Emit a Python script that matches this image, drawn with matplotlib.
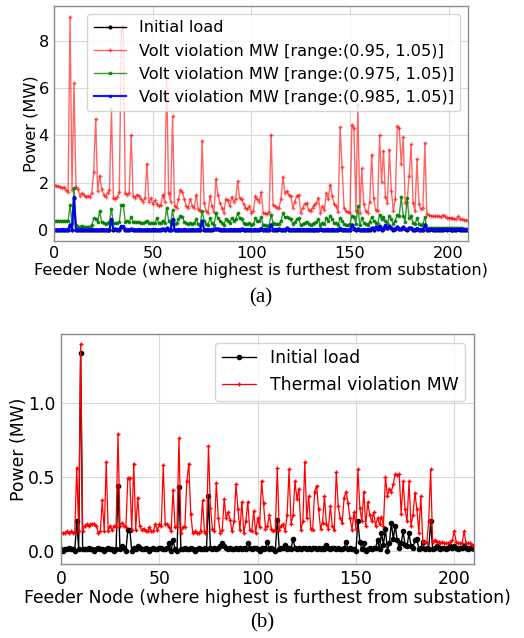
import matplotlib
matplotlib.use("Agg")
import matplotlib.pyplot as plt
import numpy as np

# ---------------- data ----------------
nodes = list(range(211))

initial_load = [
    0.01, 0.00, 0.01, 0.01, 0.02, 0.01, 0.01, 0.00, 0.20, 0.01,
    1.34, 0.01, 0.01, 0.01, 0.02, 0.01, 0.01, 0.00, 0.01, 0.02,
    0.01, 0.01, 0.00, 0.01, 0.02, 0.01, 0.01, 0.00, 0.01, 0.44,
    0.01, 0.03, 0.02, 0.00, 0.14, 0.14, 0.00, 0.02, 0.01, 0.03,
    0.02, 0.01, 0.01, 0.02, 0.01, 0.00, 0.01, 0.02, 0.01, 0.01,
    0.02, 0.02, 0.01, 0.01, 0.02, 0.05, 0.00, 0.07, 0.01, 0.00,
    0.43, 0.01, 0.01, 0.02, 0.01, 0.01, 0.02, 0.01, 0.00, 0.01,
    0.02, 0.01, 0.01, 0.02, 0.01, 0.37, 0.02, 0.01, 0.02, 0.01,
    0.02, 0.03, 0.05, 0.03, 0.02, 0.01, 0.02, 0.01, 0.01, 0.02,
    0.01, 0.02, 0.01, 0.02, 0.01, 0.05, 0.02, 0.01, 0.02, 0.02,
    0.01, 0.00, 0.02, 0.01, 0.02, 0.06, 0.01, 0.02, 0.01, 0.00,
    0.21, 0.01, 0.02, 0.02, 0.04, 0.01, 0.02, 0.01, 0.08, 0.02,
    0.01, 0.02, 0.01, 0.02, 0.02, 0.01, 0.02, 0.01, 0.02, 0.02,
    0.01, 0.02, 0.01, 0.02, 0.01, 0.04, 0.02, 0.01, 0.02, 0.02,
    0.01, 0.02, 0.01, 0.01, 0.02, 0.06, 0.01, 0.02, 0.01, 0.01,
    0.00, 0.20, 0.06, 0.01, 0.05, 0.00, 0.01, 0.02, 0.01, 0.02,
    0.02, 0.07, 0.01, 0.12, 0.04, 0.15, 0.00, 0.05, 0.19, 0.08,
    0.17, 0.07, 0.02, 0.05, 0.13, 0.04, 0.03, 0.12, 0.03, 0.02,
    0.07, 0.08, 0.01, 0.02, 0.06, 0.01, 0.02, 0.01, 0.20, 0.01,
    0.02, 0.03, 0.02, 0.01, 0.02, 0.02, 0.01, 0.02, 0.03, 0.02,
    0.03, 0.02, 0.01, 0.02, 0.02, 0.03, 0.02, 0.01, 0.02, 0.02,
    0.01,
]

volt_095 = [
    1.92, 1.88, 1.85, 1.82, 1.79, 1.80, 1.68, 1.62, 9.00, 1.70,
    6.20, 1.80, 1.72, 1.45, 1.55, 1.50, 1.38, 1.45, 1.40, 1.55,
    2.46, 4.70, 1.65, 2.30, 1.75, 1.50, 1.40, 1.55, 1.70, 5.10,
    1.35, 1.30, 1.40, 1.60, 8.40, 8.60, 1.55, 1.50, 1.55, 4.00,
    1.45, 1.35, 1.50, 1.45, 1.30, 1.20, 1.35, 2.80, 1.20, 1.35,
    1.10, 1.25, 1.10, 1.00, 1.05, 1.50, 1.20, 6.50, 1.55, 1.20,
    4.80, 1.00, 0.95, 1.30, 1.70, 1.60, 1.30, 1.00, 0.95, 1.30,
    1.00, 0.95, 1.50, 0.90, 0.80, 3.78, 1.15, 0.80, 0.73, 1.45,
    1.00, 0.75, 2.15, 1.50, 1.15, 0.95, 0.73, 1.30, 1.25, 1.00,
    1.40, 1.20, 1.30, 2.06, 1.36, 1.30, 1.10, 0.95, 0.87, 1.00,
    0.73, 0.80, 1.43, 1.30, 1.20, 1.60, 0.73, 0.70, 0.66, 0.75,
    4.03, 1.06, 1.00, 0.95, 0.95, 1.30, 2.25, 1.57, 1.64, 1.50,
    1.43, 0.95, 1.20, 1.43, 1.50, 0.73, 0.95, 1.10, 1.15, 0.85,
    0.80, 0.95, 1.05, 1.15, 1.36, 0.73, 1.00, 0.85, 1.57, 1.30,
    1.92, 1.45, 1.10, 1.00, 0.75, 4.34, 2.66, 0.95, 0.80, 0.75,
    0.73, 4.45, 4.30, 0.80, 5.30, 0.73, 2.60, 1.10, 0.80, 0.73,
    1.20, 3.19, 1.36, 0.85, 0.80, 4.00, 2.05, 3.33, 1.40, 1.15,
    3.40, 1.65, 0.80, 1.30, 4.38, 4.30, 2.80, 3.93, 1.15, 1.20,
    2.27, 3.62, 1.15, 0.80, 3.00, 1.10, 0.90, 0.95, 3.68, 0.66,
    0.62, 0.60, 0.60, 0.58, 0.60, 0.58, 0.55, 0.62, 0.58, 0.52,
    0.52, 0.50, 0.50, 0.48, 0.48, 0.58, 0.45, 0.45, 0.43, 0.42,
    0.40,
]

volt_0975 = [
    0.40, 0.40, 0.40, 0.38, 0.40, 0.40, 0.38, 0.38, 1.05, 0.30,
    1.78, 0.20, 0.15, 0.15, 0.16, 0.15, 0.15, 0.14, 0.15, 0.20,
    0.50, 0.45, 0.35, 0.80, 0.35, 0.30, 0.25, 0.30, 0.35, 0.88,
    0.30, 0.28, 0.30, 0.35, 1.05, 1.05, 0.35, 0.40, 0.35, 0.55,
    0.35, 0.33, 0.35, 0.32, 0.30, 0.30, 0.32, 0.40, 0.30, 0.30,
    0.28, 0.30, 0.50, 0.30, 0.28, 0.40, 0.30, 0.95, 0.40, 0.30,
    0.85, 0.25, 0.30, 0.45, 0.60, 0.55, 0.35, 0.28, 0.25, 0.30,
    0.25, 0.28, 0.45, 0.25, 0.22, 0.80, 0.40, 0.25, 0.20, 0.50,
    0.30, 0.20, 0.70, 0.50, 0.40, 0.30, 0.20, 0.45, 0.40, 0.30,
    0.50, 0.40, 0.45, 0.70, 0.50, 0.45, 0.30, 0.25, 0.25, 0.30,
    0.20, 0.25, 0.50, 0.40, 0.40, 0.55, 0.20, 0.20, 0.18, 0.20,
    0.65, 0.30, 0.25, 0.25, 0.25, 0.40, 0.70, 0.55, 0.55, 0.50,
    0.45, 0.25, 0.35, 0.45, 0.50, 0.20, 0.25, 0.30, 0.35, 0.25,
    0.20, 0.25, 0.30, 0.35, 0.45, 0.20, 0.30, 0.25, 0.50, 0.40,
    0.60, 0.45, 0.30, 0.28, 0.20, 0.50, 0.40, 0.25, 0.20, 0.20,
    0.25, 0.60, 0.55, 0.25, 1.00, 0.20, 0.50, 0.30, 0.25, 0.20,
    0.35, 0.55, 0.40, 0.30, 0.25, 0.65, 0.45, 0.55, 0.40, 0.30,
    0.60, 0.45, 0.25, 0.40, 0.65, 0.60, 1.40, 0.60, 0.35, 1.35,
    0.50, 0.60, 0.30, 0.25, 0.50, 0.25, 0.20, 0.25, 0.55, 0.10,
    0.10, 0.09, 0.09, 0.08, 0.09, 0.08, 0.08, 0.09, 0.08, 0.08,
    0.10, 0.08, 0.07, 0.07, 0.07, 0.09, 0.07, 0.07, 0.06, 0.06,
    0.06,
]

volt_0985 = [
    0.02, 0.02, 0.02, 0.02, 0.03, 0.02, 0.02, 0.02, 0.22, 0.02,
    1.38, 0.02, 0.02, 0.02, 0.03, 0.02, 0.02, 0.02, 0.02, 0.03,
    0.02, 0.02, 0.02, 0.02, 0.03, 0.02, 0.02, 0.02, 0.02, 0.46,
    0.03, 0.04, 0.03, 0.02, 0.17, 0.17, 0.02, 0.03, 0.02, 0.04,
    0.03, 0.02, 0.02, 0.03, 0.02, 0.02, 0.02, 0.03, 0.02, 0.02,
    0.03, 0.03, 0.02, 0.02, 0.03, 0.06, 0.02, 0.08, 0.02, 0.02,
    0.45, 0.02, 0.02, 0.03, 0.02, 0.02, 0.03, 0.02, 0.02, 0.02,
    0.03, 0.02, 0.02, 0.03, 0.02, 0.38, 0.03, 0.02, 0.03, 0.02,
    0.03, 0.04, 0.06, 0.04, 0.03, 0.02, 0.03, 0.02, 0.02, 0.03,
    0.02, 0.03, 0.02, 0.03, 0.02, 0.06, 0.03, 0.02, 0.03, 0.03,
    0.02, 0.02, 0.03, 0.02, 0.03, 0.07, 0.02, 0.03, 0.02, 0.02,
    0.23, 0.02, 0.03, 0.03, 0.05, 0.02, 0.03, 0.02, 0.09, 0.03,
    0.02, 0.03, 0.02, 0.03, 0.03, 0.02, 0.03, 0.02, 0.03, 0.03,
    0.02, 0.03, 0.02, 0.03, 0.02, 0.05, 0.03, 0.02, 0.03, 0.03,
    0.02, 0.03, 0.02, 0.02, 0.03, 0.07, 0.02, 0.03, 0.02, 0.02,
    0.02, 0.21, 0.07, 0.02, 0.06, 0.02, 0.02, 0.03, 0.02, 0.03,
    0.03, 0.08, 0.02, 0.13, 0.05, 0.16, 0.02, 0.06, 0.20, 0.09,
    0.18, 0.08, 0.03, 0.06, 0.14, 0.05, 0.04, 0.13, 0.04, 0.03,
    0.08, 0.09, 0.02, 0.03, 0.07, 0.02, 0.03, 0.02, 0.21, 0.02,
    0.03, 0.04, 0.03, 0.02, 0.03, 0.03, 0.02, 0.03, 0.04, 0.03,
    0.04, 0.03, 0.02, 0.03, 0.03, 0.04, 0.03, 0.02, 0.03, 0.03,
    0.02,
]

thermal = [
    0.12, 0.12, 0.12, 0.13, 0.12, 0.13, 0.12, 0.12, 0.56, 0.13,
    1.40, 0.13, 0.17, 0.18, 0.17, 0.18, 0.18, 0.18, 0.17, 0.12,
    0.13, 0.34, 0.13, 0.60, 0.13, 0.17, 0.14, 0.17, 0.16, 0.79,
    0.17, 0.19, 0.17, 0.16, 0.49, 0.49, 0.14, 0.59, 0.14, 0.36,
    0.17, 0.14, 0.15, 0.13, 0.13, 0.16, 0.13, 0.13, 0.18, 0.14,
    0.18, 0.17, 0.58, 0.18, 0.18, 0.16, 0.13, 0.41, 0.16, 0.16,
    0.76, 0.12, 0.16, 0.16, 0.47, 0.59, 0.25, 0.12, 0.13, 0.12,
    0.12, 0.13, 0.34, 0.12, 0.13, 0.71, 0.29, 0.15, 0.13, 0.46,
    0.22, 0.12, 0.14, 0.35, 0.22, 0.26, 0.21, 0.13, 0.20, 0.45,
    0.28, 0.14, 0.33, 0.12, 0.20, 0.33, 0.14, 0.13, 0.27, 0.12,
    0.22, 0.16, 0.47, 0.32, 0.15, 0.17, 0.24, 0.15, 0.13, 0.14,
    0.56, 0.14, 0.17, 0.18, 0.13, 0.24, 0.55, 0.18, 0.24, 0.47,
    0.35, 0.42, 0.14, 0.20, 0.60, 0.22, 0.37, 0.15, 0.14, 0.40,
    0.44, 0.28, 0.15, 0.19, 0.37, 0.18, 0.15, 0.30, 0.17, 0.14,
    0.53, 0.30, 0.22, 0.19, 0.36, 0.40, 0.32, 0.22, 0.14, 0.26,
    0.15, 0.55, 0.29, 0.20, 0.40, 0.17, 0.33, 0.24, 0.20, 0.26,
    0.17, 0.22, 0.18, 0.23, 0.17, 0.50, 0.37, 0.42, 0.40, 0.45,
    0.52, 0.51, 0.52, 0.25, 0.47, 0.28, 0.20, 0.47, 0.17, 0.24,
    0.39, 0.28, 0.12, 0.37, 0.06, 0.06, 0.05, 0.20, 0.55, 0.06,
    0.07, 0.06, 0.06, 0.05, 0.06, 0.05, 0.05, 0.05, 0.06, 0.07,
    0.13, 0.06, 0.05, 0.05, 0.05, 0.13, 0.05, 0.05, 0.05, 0.04,
    0.04,
]

legend_top = ["Initial load",
              "Volt violation MW [range:(0.95, 1.05)]",
              "Volt violation MW [range:(0.975, 1.05)]",
              "Volt violation MW [range:(0.985, 1.05)]"]
legend_bottom = ["Initial load", "Thermal violation MW"]
xlabel = "Feeder Node (where highest is furthest from substation)"
ylabel = "Power (MW)"

# ---------------- figure ----------------
plt.rcParams['font.family'] = ['DejaVu Sans']
fig = plt.figure(figsize=(5.24, 6.38), dpi=100)

def style_axes(ax, fs):
    for s in ax.spines.values():
        s.set_color('#8c8c8c')
        s.set_linewidth(1.0)
    ax.grid(True, color='#d9d9d9', linewidth=0.8)
    ax.set_axisbelow(True)
    ax.tick_params(length=0, labelsize=fs, pad=4)

FS_TOP = 11.6
FS_BOT = 12.4

# top panel
ax1 = fig.add_axes([0.1036, 0.6227, 0.790, 0.3679])
ax1.plot(nodes, initial_load, color='black', marker='o', markersize=2, lw=1, label=legend_top[0])
ax1.plot(nodes, volt_095, color='red', marker='+', markersize=3, lw=1.0, alpha=0.6, label=legend_top[1])
ax1.plot(nodes, volt_0975, color='green', marker='*', markersize=2.5, lw=1.0, alpha=0.8, label=legend_top[2])
ax1.plot(nodes, volt_0985, color='blue', marker='.', markersize=3, lw=1.6, alpha=0.9, label=legend_top[3])
ax1.set_xlim(0, 210)
ax1.set_ylim(-0.45, 9.46)
ax1.set_yticks([0, 2, 4, 6, 8])
ax1.set_xticks([0, 50, 100, 150, 200])
style_axes(ax1, FS_TOP)
ax1.set_xlabel(xlabel, fontsize=FS_TOP, labelpad=1)
ax1.set_ylabel(ylabel, fontsize=FS_TOP, labelpad=0)
ax1.legend(loc='upper right', fontsize=FS_TOP, handlelength=2.0, borderaxespad=0.5)

# bottom panel
ax2 = fig.add_axes([0.1164, 0.116, 0.788, 0.3605])
ax2.plot(nodes, initial_load, color='black', marker='o', markersize=3, lw=1, label=legend_bottom[0])
ax2.plot(nodes, thermal, color='red', marker='+', markersize=3, lw=0.9, label=legend_bottom[1])
ax2.set_xlim(0, 210)
ax2.set_ylim(-0.09, 1.467)
ax2.set_yticks([0.0, 0.5, 1.0])
ax2.set_xticks([0, 50, 100, 150, 200])
style_axes(ax2, FS_BOT)
ax2.set_xlabel(xlabel, fontsize=FS_BOT, labelpad=1)
ax2.set_ylabel(ylabel, fontsize=FS_BOT, labelpad=0)
ax2.legend(loc='upper right', fontsize=FS_BOT, handlelength=2.0, borderaxespad=0.5)

# captions
fig.text(261 / 524, 1 - 298 / 638, "(a)", family='Liberation Serif', fontsize=15, ha='center', va='center')
fig.text(262 / 524, 1 - 623 / 638, "(b)", family='Liberation Serif', fontsize=15, ha='center', va='center')

fig.savefig("out.png", dpi=100)
